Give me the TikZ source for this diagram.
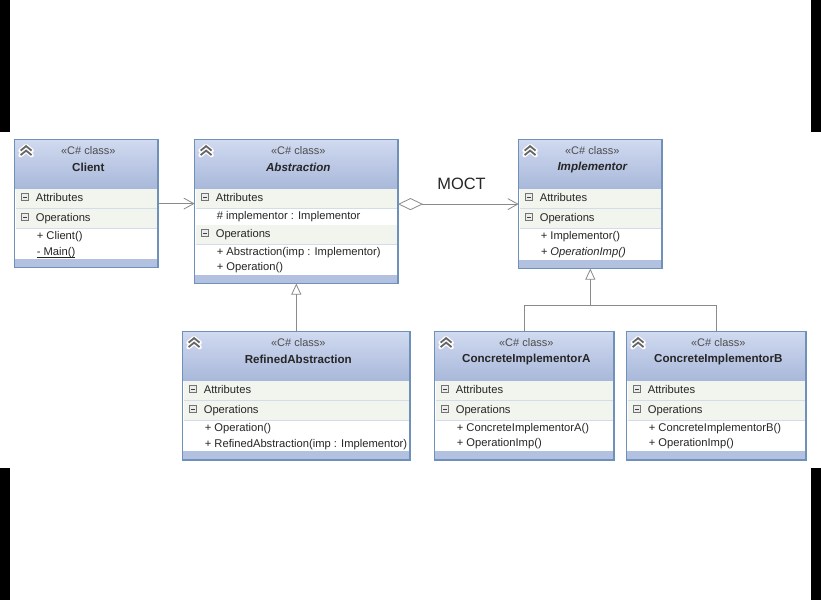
\documentclass[tikz,border=0pt]{standalone}
\usepackage{fontspec}
\setmainfont{Liberation Sans}
\usetikzlibrary{arrows.meta, calc}
\definecolor{edgec}{HTML}{6F90B8}
\definecolor{headtopc}{HTML}{D0DAF0}
\definecolor{headbotc}{HTML}{A9B8DA}
\definecolor{footc}{HTML}{B3C1E0}
\definecolor{bandc}{HTML}{F2F5EE}
\definecolor{sepc}{HTML}{D3DDE8}
\definecolor{wirec}{HTML}{8A8A8A}
\tikzset{
  classbody/.style={rectangle, draw=edgec, fill=white, line width=1.1pt,
        anchor=north west, inner sep=0pt, outer sep=0pt},
  stereotxt/.style={font=\fontsize{11}{13}\selectfont, text=black!70},
  titletxt/.style={font=\fontsize{11.6}{13}\selectfont\bfseries, text=black!85},
  membertxt/.style={font=\fontsize{11.2}{13}\selectfont, text=black!85, anchor=west,
        inner sep=0pt, text height=10.5pt, text depth=2.5pt},
  assoc/.style={-{Straight Barb[length=10pt, width=11pt, line width=0.8pt]}, wirec, line width=1.2pt},
  aggr/.style={{Diamond[open, fill=white, length=25pt, width=12pt, line width=0.8pt]}-{Straight Barb[length=10pt, width=11pt, line width=0.8pt]},
        wirec, line width=1.2pt},
  inherit/.style={-{Triangle[open, fill=white, length=11pt, width=10pt, line width=0.8pt]}, wirec, line width=1.2pt},
}
\newcommand{\classbox}[6]{%
  \node[classbody, minimum width=#4pt, minimum height=#5pt] (#1) at (#2,#3) {};
  \shade[top color=headtopc, bottom color=headbotc]
    (#1.north west) rectangle ($(#1.north east)+(0,49)$);
  \fill[footc] ($(#1.south west)+(0,-9)$) rectangle (#1.south east);
  \draw[edgec, line width=1.1pt] (#1.north west) rectangle (#1.south east);
  \node[stereotxt] (#1st) at ($(#1.north)+(2,10.5)$) {«C\# class»};
  \node[titletxt] (#1ti) at ($(#1.north)+(2,28)$) {#6};
  \draw[white, line width=4.4pt, line cap=round, line join=round]
    ($(#1.north west)+(6,11)$) -- ++(5.5,-4.5) -- ++(5.5,4.5)
    ($(#1.north west)+(6,15.5)$) -- ++(5.5,-4.5) -- ++(5.5,4.5);
  \draw[black!60, line width=1.8pt]
    ($(#1.north west)+(6,11)$) -- ++(5.5,-4.5) -- ++(5.5,4.5)
    ($(#1.north west)+(6,15.5)$) -- ++(5.5,-4.5) -- ++(5.5,4.5);
}
\newcommand{\sect}[4]{%
  \fill[bandc] ($(#1.north west)+(1,#3)$) rectangle ($(#1.north east)+(-1,#3+19)$);
  \draw[sepc, line width=0.8pt] ($(#1.north west)+(1,#3+19.5)$) -- ($(#1.north east)+(-1,#3+19.5)$);
  \fill[black!8] ($(#1.north west)+(7,#3+5)$) rectangle ++(7,7);
  \draw[black!55, line width=0.6pt] ($(#1.north west)+(7,#3+5)$) rectangle ++(7,7);
  \draw[black!75, line width=0.8pt] ($(#1.north west)+(8.5,#3+8.5)$) -- ++(4,0);
  \node[membertxt] (#1#2) at ($(#1.north west)+(21,#3+9)$) {#4};
}
\newcommand{\member}[4]{%
  \node[membertxt] (#1#2) at ($(#1.north west)+(22,#3)$) {#4};
}

\begin{document}
\begin{tikzpicture}[x=1pt, y=-1pt]
    \useasboundingbox (0,0) rectangle (821,600);
    \fill[white] (0,0) rectangle (821,600);
    \foreach \x in {0,811} \foreach \y in {0,468}
      \fill[black] (\x,\y) rectangle ++(10,132);

    \classbox{client}{14.6}{139.6}{143.4}{128}{Client}
    \sect{client}{at}{49}{Attributes}
    \sect{client}{op}{69}{Operations}
    \member{client}{a}{96}{+ Client()}
    \member{client}{b}{112}{\underline{\smash{- Main()}}}

    \classbox{abstraction}{194.6}{139.6}{203.4}{144}{\itshape Abstraction}
    \sect{abstraction}{at}{49}{Attributes}
    \member{abstraction}{f}{76}{\# implementor : Implementor}
    \sect{abstraction}{op}{85}{Operations}
    \member{abstraction}{a}{112}{+ Abstraction(imp : Implementor)}
    \member{abstraction}{b}{127}{+ Operation()}

    \classbox{implementor}{518.6}{139.6}{143.4}{129}{\itshape Implementor}
    \sect{implementor}{at}{49}{Attributes}
    \sect{implementor}{op}{69}{Operations}
    \member{implementor}{a}{96}{+ Implementor()}
    \member{implementor}{b}{112}{\itshape + OperationImp()}

    \classbox{refined}{182.6}{331.6}{227.4}{128.4}{RefinedAbstraction}
    \sect{refined}{at}{49}{Attributes}
    \sect{refined}{op}{69}{Operations}
    \member{refined}{a}{96}{+ Operation()}
    \member{refined}{b}{112}{+ RefinedAbstraction(imp : Implementor)}

    \foreach \nm/\x/\ch in {concretea/434.6/A, concreteb/626.6/B} {
      \classbox{\nm}{\x}{331.6}{179.4}{128.4}{ConcreteImplementor\ch}
      \sect{\nm}{at}{49}{Attributes}
      \sect{\nm}{op}{69}{Operations}
      \member{\nm}{a}{96}{+ ConcreteImplementor\ch()}
      \member{\nm}{b}{111}{+ OperationImp()}
    }

    \draw[assoc] (client.east) -- (client.east -| abstraction.west);
    \draw[aggr] (implementor.west -| abstraction.east) -- (implementor.west);
    \node[font=\fontsize{16.4}{18}\selectfont, text=black!85] (moct) at (461.5,184) {MOCT};
    \draw[inherit] (refined.north) -- (abstraction.south);
    \coordinate (bus) at (implementor.south |- 0,305.4);
    \draw[wirec, line width=1.2pt] (concretea.north) |- (bus) -| (concreteb.north);
    \draw[inherit] (bus) -- (implementor.south);
\end{tikzpicture}
\end{document}
